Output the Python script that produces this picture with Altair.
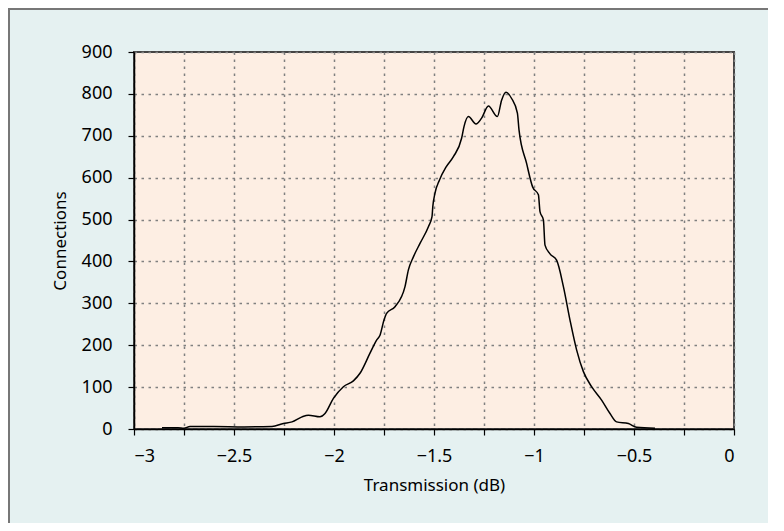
import altair as alt
import pandas as pd

# Transmission (dB) and number of connections
transmission = [-2.86, -2.78, -2.75, -2.72, -2.6, -2.45, -2.31, -2.253, -2.21, -2.16,
                -2.128, -2.07, -2.045, -2.003, -1.953, -1.903, -1.87, -1.82, -1.787, -1.77,
                -1.75, -1.737, -1.695, -1.645, -1.628, -1.603, -1.57, -1.528, -1.51, -1.506,
                -1.495, -1.473, -1.44, -1.403, -1.362, -1.35, -1.328, -1.29, -1.262, -1.228,
                -1.183, -1.162, -1.14, -1.112, -1.083, -1.075, -1.037, -1.007, -0.978, -0.97,
                -0.953, -0.945, -0.92, -0.887, -0.853, -0.82, -0.787, -0.753, -0.712, -0.662,
                -0.62, -0.587, -0.528, -0.487, -0.395]
connections = [3, 3, 2, 6, 6, 5, 6, 13, 17, 29,
               33, 29, 37, 73, 101, 115, 133, 181, 212, 224,
               260, 276, 292, 340, 380, 411, 443, 483, 507, 531,
               563, 594, 625, 650, 694, 722, 746, 728, 742, 771,
               746, 785, 804, 789, 754, 714, 634, 578, 559, 519,
               499, 439, 418, 403, 340, 260, 189, 137, 101, 69,
               37, 17, 13, 4, 2]

x_ticks = [-3 + 0.25 * i for i in range(13)]
y_ticks = list(range(0, 1000, 100))

df = pd.DataFrame({"t": transmission, "c": connections})

FONT = "Noto Sans"
W, H = 600, 377

line = alt.Chart(df).mark_line(color="black", strokeWidth=1.5, interpolate="monotone").encode(
    x=alt.X("t:Q", scale=alt.Scale(domain=[-3, 0], nice=False, zero=False),
            axis=alt.Axis(values=x_ticks, title="Transmission (dB)", format="~g",
                          labelExpr="abs(round(datum.value*4)) % 2 == 0 ? datum.label : ''",
                          labelPadding=12, titlePadding=12)),
    y=alt.Y("c:Q", scale=alt.Scale(domain=[0, 900], nice=False),
            axis=alt.Axis(values=y_ticks, title="Connections", labelPadding=16,
                          titlePadding=12)),
)

frame_top = alt.Chart(pd.DataFrame({"a": [0]})).mark_rule(color="#777777", strokeWidth=2).encode(
    x=alt.value(-126), x2=alt.value(700), y=alt.value(-43))
frame_left = alt.Chart(pd.DataFrame({"a": [0]})).mark_rule(color="#777777", strokeWidth=2).encode(
    x=alt.value(-125), y=alt.value(-44), y2=alt.value(471))

chart = alt.layer(line, frame_top, frame_left).properties(
    width=W, height=H,
    autosize=alt.AutoSizeParams(type="none"),
    padding={"left": 126, "top": 44, "right": 34, "bottom": 94},
    background="#e5f1f1",
).configure_view(
    fill="#fdeee3", stroke="#444444", strokeWidth=2,
).configure_axis(
    labelFont=FONT, titleFont=FONT, labelFontSize=18, titleFontSize=17,
    labelColor="black", titleColor="black", titleFontWeight="normal",
    domainColor="black", domainWidth=1.5, tickColor="black", tickSize=6, tickWidth=1.2,
    gridColor="#808080", gridDash=[2.5, 4.5], gridWidth=1.5,
)

chart.save("out.html", embed_options={"renderer": "svg", "actions": False})
